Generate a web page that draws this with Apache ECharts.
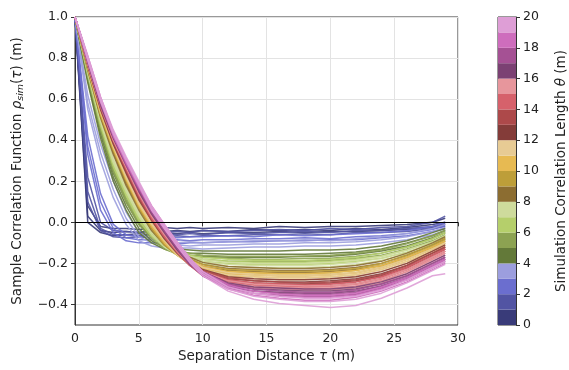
<!DOCTYPE html>
<html>
<head>
<meta charset="utf-8">
<script src="https://cdn.jsdelivr.net/npm/echarts@6/dist/echarts.min.js"></script>
<style>
html,body{margin:0;padding:0;background:#fff;}
#chart{width:569px;height:370px;}
</style>
</head>
<body>
<div id="chart"></div>
<script>
// separation distances (m) at which each curve is read
const X = [0,1,2,3,4,5,6,7,8,9,10,12,14,16,18,20,22,24,26,28,29];
const X_TICKS = [0,5,10,15,20,25,30];
const Y_TICKS = [-0.4,-0.2,0.0,0.2,0.4,0.6,0.8,1.0];
const THETA_TICKS = [0,2,4,6,8,10,12,14,16,18,20];
const THETA_BINS = [0,1,2,3,4,5,6,7,8,9,10,11,12,13,14,15,16,17,18,19];
const COLORS = ['#393b79','#5254a3','#6b6ecf','#9c9ede','#637939','#8ca252','#b5cf6b','#cedb9c',
  '#8c6d31','#bd9e39','#e7ba52','#e7cb94','#843c39','#ad494a','#d6616b','#e7969c',
  '#7b4173','#a55194','#ce6dbd','#de9ed6'];

const theta00 = [
 [1,0.08,-0.02,-0.03,-0.03,-0.035,-0.03,-0.025,-0.03,-0.025,-0.03,-0.025,-0.03,-0.02,-0.025,-0.02,-0.02,-0.015,-0.01,0.0,0.02],
 [1,0.03,-0.04,-0.05,-0.045,-0.05,-0.04,-0.045,-0.04,-0.045,-0.04,-0.045,-0.035,-0.04,-0.035,-0.04,-0.03,-0.035,-0.025,-0.01,0.0],
 [1,0.0,-0.05,-0.065,-0.06,-0.055,-0.06,-0.05,-0.055,-0.05,-0.055,-0.05,-0.05,-0.045,-0.05,-0.045,-0.045,-0.04,-0.035,-0.025,-0.01]];
const theta01 = [
 [1,0.22,0.0,-0.04,-0.045,-0.05,-0.045,-0.05,-0.045,-0.05,-0.04,-0.045,-0.04,-0.035,-0.04,-0.03,-0.035,-0.025,-0.02,0.0,0.03],
 [1,0.15,-0.03,-0.06,-0.06,-0.065,-0.06,-0.055,-0.06,-0.055,-0.06,-0.05,-0.055,-0.05,-0.045,-0.05,-0.04,-0.04,-0.03,-0.02,-0.005],
 [1,0.1,-0.04,-0.07,-0.075,-0.07,-0.075,-0.07,-0.065,-0.07,-0.065,-0.065,-0.06,-0.06,-0.055,-0.06,-0.05,-0.05,-0.045,-0.03,-0.02]];
const theta02 = [
 [1,0.42,0.14,-0.01,-0.06,-0.07,-0.075,-0.07,-0.075,-0.07,-0.07,-0.065,-0.07,-0.06,-0.065,-0.06,-0.055,-0.05,-0.04,-0.02,0.0],
 [1,0.37,0.1,-0.03,-0.075,-0.085,-0.085,-0.09,-0.085,-0.09,-0.085,-0.085,-0.08,-0.08,-0.075,-0.08,-0.07,-0.065,-0.055,-0.035,-0.015],
 [1,0.33,0.06,-0.05,-0.09,-0.1,-0.1,-0.1,-0.105,-0.1,-0.1,-0.095,-0.095,-0.09,-0.09,-0.085,-0.085,-0.075,-0.065,-0.045,-0.03]];
const theta03 = [
 [1,0.62,0.38,0.2,0.05,-0.05,-0.085,-0.095,-0.1,-0.095,-0.1,-0.095,-0.09,-0.09,-0.085,-0.09,-0.08,-0.07,-0.055,-0.03,-0.01],
 [1,0.58,0.34,0.16,0.02,-0.07,-0.1,-0.11,-0.11,-0.115,-0.11,-0.11,-0.105,-0.105,-0.1,-0.1,-0.095,-0.085,-0.07,-0.045,-0.025],
 [1,0.55,0.3,0.12,-0.01,-0.09,-0.115,-0.125,-0.125,-0.125,-0.13,-0.125,-0.12,-0.12,-0.115,-0.115,-0.11,-0.1,-0.085,-0.06,-0.04]];
const theta04 = [
 [1,0.71,0.45,0.24,0.1,-0.01,-0.07,-0.11,-0.13,-0.135,-0.14,-0.14,-0.14,-0.14,-0.135,-0.135,-0.13,-0.115,-0.09,-0.05,-0.03],
 [1,0.69,0.43,0.22,0.08,-0.03,-0.09,-0.12,-0.14,-0.15,-0.15,-0.155,-0.155,-0.155,-0.155,-0.15,-0.145,-0.13,-0.1,-0.065,-0.04],
 [1,0.68,0.41,0.2,0.06,-0.05,-0.1,-0.13,-0.15,-0.16,-0.165,-0.17,-0.17,-0.17,-0.165,-0.165,-0.155,-0.14,-0.115,-0.075,-0.05]];
const theta05 = [
 [1,0.73,0.47,0.27,0.12,0.01,-0.06,-0.11,-0.14,-0.15,-0.16,-0.165,-0.165,-0.165,-0.165,-0.16,-0.15,-0.135,-0.105,-0.065,-0.04],
 [1,0.72,0.46,0.26,0.11,0.0,-0.07,-0.12,-0.15,-0.16,-0.17,-0.175,-0.18,-0.18,-0.175,-0.175,-0.165,-0.15,-0.12,-0.08,-0.05],
 [1,0.71,0.45,0.25,0.1,-0.01,-0.08,-0.13,-0.155,-0.17,-0.18,-0.19,-0.19,-0.19,-0.19,-0.185,-0.175,-0.16,-0.13,-0.09,-0.06]];
const theta06 = [
 [1,0.74,0.49,0.29,0.15,0.03,-0.05,-0.1,-0.14,-0.16,-0.17,-0.18,-0.185,-0.185,-0.185,-0.18,-0.17,-0.15,-0.12,-0.08,-0.05],
 [1,0.73,0.48,0.28,0.14,0.02,-0.06,-0.11,-0.15,-0.17,-0.18,-0.19,-0.195,-0.195,-0.195,-0.19,-0.18,-0.165,-0.135,-0.095,-0.065],
 [1,0.72,0.47,0.27,0.13,0.01,-0.07,-0.12,-0.155,-0.175,-0.19,-0.2,-0.205,-0.205,-0.205,-0.2,-0.19,-0.175,-0.145,-0.105,-0.075]];
const theta07 = [
 [1,0.75,0.51,0.31,0.17,0.05,-0.04,-0.1,-0.14,-0.165,-0.18,-0.195,-0.2,-0.2,-0.2,-0.195,-0.185,-0.165,-0.135,-0.095,-0.065],
 [1,0.74,0.5,0.3,0.16,0.04,-0.05,-0.11,-0.15,-0.175,-0.19,-0.205,-0.21,-0.21,-0.21,-0.205,-0.195,-0.175,-0.145,-0.105,-0.075],
 [1,0.73,0.49,0.29,0.15,0.03,-0.06,-0.12,-0.16,-0.18,-0.2,-0.215,-0.22,-0.22,-0.22,-0.215,-0.205,-0.185,-0.155,-0.115,-0.085]];
const theta08 = [
 [1,0.76,0.53,0.35,0.2,0.08,-0.02,-0.09,-0.14,-0.17,-0.195,-0.215,-0.22,-0.225,-0.225,-0.22,-0.21,-0.19,-0.15,-0.1,-0.07],
 [1,0.75,0.52,0.34,0.19,0.07,-0.03,-0.1,-0.15,-0.18,-0.205,-0.225,-0.23,-0.235,-0.235,-0.23,-0.22,-0.2,-0.16,-0.11,-0.08],
 [1,0.74,0.51,0.33,0.18,0.06,-0.04,-0.11,-0.16,-0.19,-0.215,-0.235,-0.24,-0.245,-0.245,-0.24,-0.23,-0.21,-0.17,-0.12,-0.09]];
const theta09 = [
 [1,0.77,0.54,0.37,0.22,0.09,-0.01,-0.09,-0.14,-0.18,-0.205,-0.23,-0.235,-0.24,-0.24,-0.235,-0.225,-0.2,-0.16,-0.11,-0.08],
 [1,0.76,0.53,0.36,0.21,0.08,-0.02,-0.1,-0.15,-0.19,-0.215,-0.24,-0.245,-0.25,-0.25,-0.245,-0.235,-0.21,-0.17,-0.12,-0.09],
 [1,0.75,0.52,0.35,0.2,0.07,-0.03,-0.11,-0.16,-0.2,-0.225,-0.25,-0.255,-0.26,-0.26,-0.255,-0.245,-0.22,-0.18,-0.13,-0.1]];
const theta10 = [
 [1,0.77,0.55,0.38,0.23,0.1,0.0,-0.08,-0.14,-0.185,-0.215,-0.24,-0.245,-0.25,-0.25,-0.245,-0.235,-0.21,-0.17,-0.12,-0.09],
 [1,0.76,0.54,0.37,0.22,0.09,-0.01,-0.09,-0.15,-0.195,-0.225,-0.25,-0.255,-0.26,-0.26,-0.255,-0.245,-0.22,-0.18,-0.13,-0.1],
 [1,0.75,0.53,0.36,0.21,0.08,-0.02,-0.1,-0.16,-0.205,-0.235,-0.26,-0.265,-0.27,-0.27,-0.265,-0.255,-0.23,-0.19,-0.14,-0.11]];
const theta11 = [
 [1,0.78,0.56,0.39,0.24,0.11,0.01,-0.07,-0.14,-0.185,-0.22,-0.245,-0.255,-0.26,-0.26,-0.255,-0.245,-0.22,-0.18,-0.13,-0.1],
 [1,0.77,0.55,0.38,0.23,0.1,0.0,-0.08,-0.15,-0.195,-0.23,-0.255,-0.265,-0.27,-0.27,-0.265,-0.255,-0.23,-0.19,-0.14,-0.11],
 [1,0.76,0.54,0.37,0.22,0.09,-0.01,-0.09,-0.16,-0.205,-0.24,-0.265,-0.275,-0.28,-0.28,-0.275,-0.265,-0.24,-0.2,-0.15,-0.12]];
const theta12 = [
 [1,0.78,0.57,0.4,0.26,0.13,0.03,-0.06,-0.13,-0.19,-0.23,-0.265,-0.275,-0.28,-0.28,-0.275,-0.265,-0.24,-0.2,-0.14,-0.11],
 [1,0.77,0.56,0.39,0.25,0.12,0.02,-0.07,-0.14,-0.2,-0.24,-0.275,-0.285,-0.29,-0.29,-0.285,-0.275,-0.25,-0.21,-0.15,-0.12],
 [1,0.76,0.55,0.38,0.24,0.11,0.01,-0.08,-0.15,-0.21,-0.25,-0.285,-0.295,-0.3,-0.3,-0.295,-0.285,-0.26,-0.22,-0.16,-0.13]];
const theta13 = [
 [1,0.79,0.58,0.41,0.27,0.14,0.03,-0.05,-0.125,-0.19,-0.235,-0.27,-0.285,-0.29,-0.295,-0.29,-0.28,-0.255,-0.21,-0.15,-0.12],
 [1,0.78,0.57,0.4,0.26,0.13,0.02,-0.06,-0.135,-0.2,-0.245,-0.28,-0.295,-0.3,-0.305,-0.3,-0.29,-0.265,-0.22,-0.16,-0.13],
 [1,0.77,0.56,0.39,0.25,0.12,0.01,-0.07,-0.145,-0.21,-0.255,-0.29,-0.305,-0.31,-0.315,-0.31,-0.3,-0.275,-0.23,-0.17,-0.14]];
const theta14 = [
 [1,0.79,0.58,0.42,0.28,0.15,0.04,-0.05,-0.125,-0.19,-0.24,-0.28,-0.295,-0.3,-0.305,-0.3,-0.29,-0.265,-0.22,-0.16,-0.13],
 [1,0.78,0.57,0.41,0.27,0.14,0.03,-0.06,-0.135,-0.2,-0.25,-0.29,-0.305,-0.31,-0.315,-0.31,-0.3,-0.275,-0.23,-0.17,-0.14],
 [1,0.77,0.56,0.4,0.26,0.13,0.02,-0.07,-0.145,-0.21,-0.26,-0.3,-0.315,-0.32,-0.325,-0.32,-0.31,-0.285,-0.24,-0.18,-0.15]];
const theta15 = [
 [1,0.79,0.59,0.42,0.29,0.16,0.05,-0.04,-0.12,-0.185,-0.24,-0.285,-0.3,-0.305,-0.31,-0.31,-0.3,-0.275,-0.23,-0.17,-0.14],
 [1,0.78,0.58,0.41,0.28,0.15,0.04,-0.05,-0.13,-0.195,-0.25,-0.295,-0.31,-0.315,-0.32,-0.32,-0.31,-0.285,-0.24,-0.18,-0.15],
 [1,0.77,0.57,0.4,0.27,0.14,0.03,-0.06,-0.14,-0.205,-0.26,-0.305,-0.32,-0.325,-0.33,-0.33,-0.32,-0.295,-0.25,-0.19,-0.16]];
const theta16 = [
 [1,0.8,0.59,0.43,0.3,0.17,0.06,-0.03,-0.115,-0.185,-0.24,-0.295,-0.315,-0.32,-0.325,-0.325,-0.315,-0.29,-0.25,-0.19,-0.16],
 [1,0.79,0.58,0.42,0.29,0.16,0.05,-0.04,-0.125,-0.195,-0.25,-0.305,-0.325,-0.33,-0.335,-0.335,-0.325,-0.3,-0.26,-0.2,-0.17],
 [1,0.78,0.57,0.41,0.28,0.15,0.04,-0.05,-0.135,-0.205,-0.26,-0.315,-0.335,-0.34,-0.345,-0.345,-0.335,-0.31,-0.27,-0.21,-0.18]];
const theta17 = [
 [1,0.8,0.6,0.44,0.3,0.18,0.07,-0.02,-0.105,-0.18,-0.24,-0.3,-0.325,-0.335,-0.34,-0.34,-0.33,-0.3,-0.26,-0.2,-0.17],
 [1,0.79,0.59,0.43,0.29,0.17,0.06,-0.03,-0.115,-0.19,-0.25,-0.31,-0.335,-0.345,-0.35,-0.35,-0.34,-0.31,-0.27,-0.21,-0.18],
 [1,0.78,0.58,0.42,0.28,0.16,0.05,-0.04,-0.125,-0.2,-0.26,-0.32,-0.345,-0.355,-0.36,-0.36,-0.35,-0.32,-0.28,-0.22,-0.19]];
const theta18 = [
 [1,0.81,0.61,0.44,0.31,0.19,0.08,-0.01,-0.095,-0.175,-0.24,-0.305,-0.335,-0.35,-0.355,-0.355,-0.345,-0.315,-0.27,-0.21,-0.18],
 [1,0.8,0.6,0.43,0.3,0.18,0.07,-0.02,-0.105,-0.185,-0.25,-0.315,-0.345,-0.36,-0.365,-0.365,-0.355,-0.325,-0.28,-0.22,-0.19],
 [1,0.79,0.59,0.42,0.29,0.17,0.06,-0.03,-0.115,-0.195,-0.26,-0.325,-0.355,-0.37,-0.38,-0.38,-0.365,-0.335,-0.29,-0.23,-0.2]];
const theta19 = [
 [1,0.81,0.61,0.45,0.32,0.2,0.08,-0.01,-0.095,-0.175,-0.24,-0.315,-0.345,-0.36,-0.37,-0.37,-0.36,-0.33,-0.28,-0.22,-0.19],
 [1,0.8,0.6,0.44,0.31,0.19,0.07,-0.02,-0.105,-0.185,-0.25,-0.325,-0.36,-0.375,-0.385,-0.385,-0.375,-0.345,-0.295,-0.235,-0.205],
 [1,0.79,0.59,0.43,0.3,0.18,0.06,-0.03,-0.115,-0.195,-0.26,-0.335,-0.375,-0.395,-0.405,-0.415,-0.405,-0.37,-0.32,-0.26,-0.25]];

const GROUPS = [theta00,theta01,theta02,theta03,theta04,theta05,theta06,theta07,theta08,theta09,
  theta10,theta11,theta12,theta13,theta14,theta15,theta16,theta17,theta18,theta19];

const FONT = 'DejaVu Sans';
const TXT = '#222';
const fmtMinus = v => String(v).replace('-', '\u2212');

const series = [];
GROUPS.forEach((g, gi) => {
  g.forEach(row => {
    series.push({
      type: 'line', xAxisIndex: 0, yAxisIndex: 0,
      data: X.map((x, i) => [x, row[i]]),
      showSymbol: false, silent: true, smooth: false,
      lineStyle: { color: COLORS[gi], width: 1.5, opacity: 0.9 },
      z: 2
    });
  });
});
// zero reference line
series[series.length - 1].markLine = {
  silent: true, symbol: 'none', animation: false,
  label: { show: false },
  lineStyle: { color: '#000', width: 1, type: 'solid', opacity: 1 },
  data: [{ yAxis: 0 }]
};
// colour bar
THETA_BINS.forEach(b => {
  series.push({
    type: 'bar', xAxisIndex: 1, yAxisIndex: 1, stack: 'cb',
    data: [1], barWidth: '100%', silent: true,
    itemStyle: { color: COLORS[b], opacity: 1 }
  });
});

const chart = echarts.init(document.getElementById('chart'), null, { renderer: 'canvas' });
chart.setOption({
  animation: false,
  backgroundColor: '#fff',
  textStyle: { fontFamily: FONT },
  grid: [
    { left: 75, top: 17, width: 383, height: 308, show: true, borderColor: '#333', borderWidth: 1, backgroundColor: 'transparent' },
    { left: 498, top: 17, width: 20, height: 308, show: true, borderColor: '#333', borderWidth: 1, backgroundColor: 'transparent' }
  ],
  xAxis: [
    {
      type: 'value', gridIndex: 0, min: 0, max: 30, interval: 5,
      name: 'Separation Distance {i|τ} (m)', nameLocation: 'middle', nameGap: 24,
      nameTextStyle: { fontFamily: FONT, fontSize: 13.5, color: TXT,
        rich: { i: { fontFamily: FONT, fontStyle: 'italic', fontSize: 13.5, color: TXT } } },
      axisLine: { show: true, lineStyle: { color: '#333', width: 1 } },
      axisTick: { show: true, inside: false, length: 4, lineStyle: { color: '#333' } },
      axisLabel: { fontFamily: FONT, fontSize: 12.5, color: TXT, margin: 7 },
      splitLine: { show: true, lineStyle: { color: '#e3e3e3', width: 1 } }
    },
    {
      type: 'category', gridIndex: 1, data: ['cb'], show: false
    }
  ],
  yAxis: [
    {
      type: 'value', gridIndex: 0, min: -0.5, max: 1.0, splitNumber: 7,
      name: 'Sample Correlation Function {i|ρ}{s|sim}{n|(}{i|τ}{n|) (m)}',
      nameLocation: 'middle', nameGap: 49, nameRotate: 90,
      nameTextStyle: { fontFamily: FONT, fontSize: 13.5, color: TXT, lineHeight: 18,
        rich: {
          i: { fontFamily: FONT, fontStyle: 'italic', fontSize: 13.5, color: TXT, lineHeight: 18 },
          n: { fontFamily: FONT, fontSize: 13.5, color: TXT, lineHeight: 18 },
          s: { fontFamily: FONT, fontStyle: 'italic', fontSize: 9.5, color: TXT, lineHeight: 18, verticalAlign: 'bottom' }
        } },
      axisLine: { show: true, lineStyle: { color: '#333', width: 1 } },
      axisTick: { show: true, inside: false, length: 4, lineStyle: { color: '#333' }, customValues: Y_TICKS },
      axisLabel: { fontFamily: FONT, fontSize: 12.5, color: TXT, margin: 7, customValues: Y_TICKS,
        formatter: v => fmtMinus(Number(v).toFixed(1)) },
      splitLine: { show: true, lineStyle: { color: '#e3e3e3', width: 1 } }
    },
    {
      type: 'value', gridIndex: 1, min: 0, max: 20, interval: 2, position: 'right',
      name: 'Simulation Correlation Length {i|θ} (m)', nameLocation: 'middle', nameGap: 38, nameRotate: 90,
      nameTextStyle: { fontFamily: FONT, fontSize: 13.5, color: TXT,
        rich: { i: { fontFamily: FONT, fontStyle: 'italic', fontSize: 13.5, color: TXT } } },
      axisLine: { show: true, lineStyle: { color: '#333', width: 1 } },
      axisTick: { show: true, inside: false, length: 4, lineStyle: { color: '#333' } },
      axisLabel: { fontFamily: FONT, fontSize: 12.5, color: TXT, margin: 7 },
      splitLine: { show: false }
    }
  ],
  series: series
});
</script>
</body>
</html>
